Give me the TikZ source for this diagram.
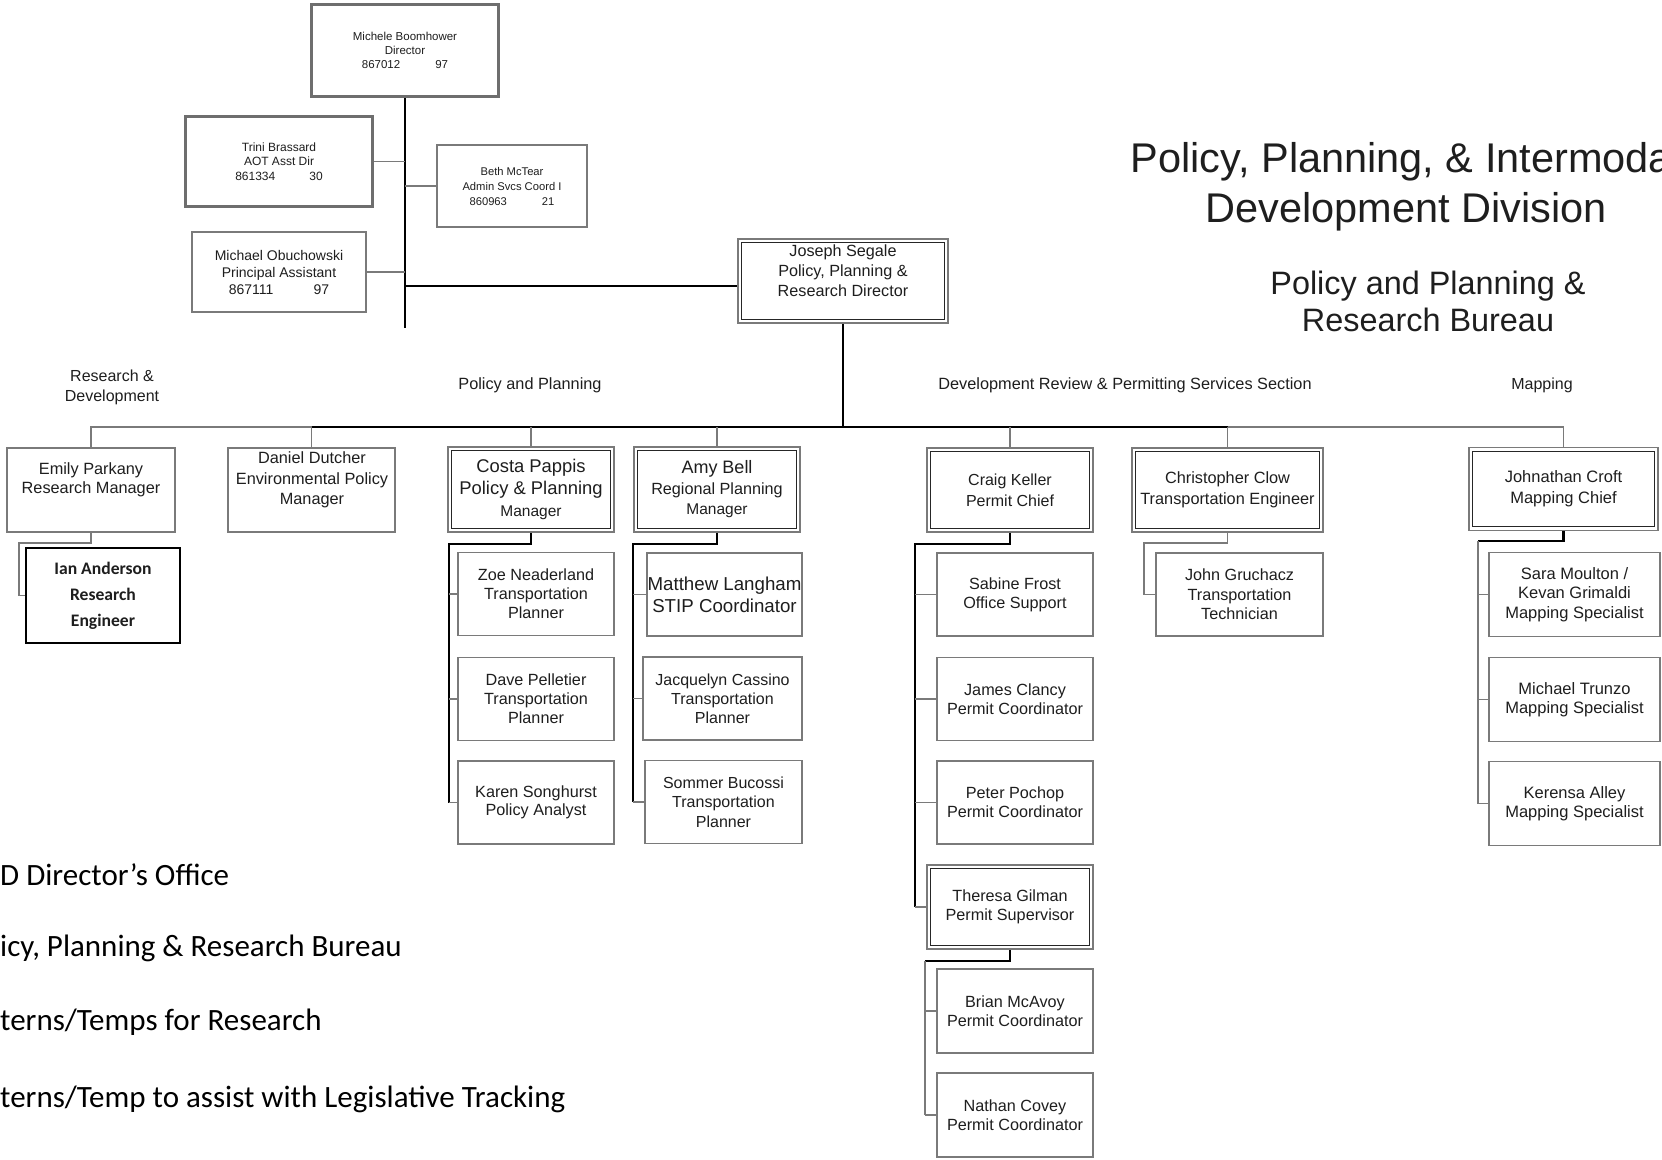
\documentclass[tikz,border=0pt]{standalone}
\usepackage{fontspec}
\setmainfont{Liberation Sans}
\newfontfamily\calfont{Carlito}
\usetikzlibrary{calc}
\definecolor{boxgray}{HTML}{7A7A7A}
\definecolor{thickgray}{HTML}{6E6E6E}
\definecolor{linegray}{HTML}{7A7A7A}
\definecolor{txt}{HTML}{1E1E1E}
\newcommand\fsz[2]{\fontsize{#1}{#2}\selectfont}
\newcommand\innerframe[1]{\draw[innerline] ($(#1.north west)+(4.5,4.5)$) rectangle ($(#1.south east)+(-4.5,-4.5)$);}
\begin{document}
\begin{tikzpicture}[x=1pt,y=-1pt,
  box/.style={draw=boxgray, line width=1.6pt, fill=white, inner sep=0pt, align=center, text=txt},
  heavybox/.style={box, draw=thickgray, line width=3.6pt},
  blackbox/.style={box, draw=black, line width=1.4pt},
  lbl/.style={inner sep=0pt, align=center, text=txt},
  legend/.style={inner sep=0pt, anchor=west, text=black, font=\calfont\fsz{31}{35}},
  grayline/.style={draw=linegray, line width=1.7pt},
  darkline/.style={draw=black, line width=2.3pt},
  innerline/.style={draw=black!85, line width=1.2pt},
  kid/.style={box, minimum width=156pt, minimum height=83pt, font=\fsz{16.2}{19}},
  mapkid/.style={box, minimum width=171pt, minimum height=84pt, font=\fsz{16.5}{19.5}},
]
\useasboundingbox (0,0) rectangle (1662,1159);
\clip (0,0) rectangle (1662,1159);

% ---------- titles ----------
\node[lbl, font=\fsz{41.5}{49}] (title1) at (1406,162) {Policy, Planning, \& Intermodal};
\node[lbl, font=\fsz{41.5}{49}] (title2) at (1406,212) {Development Division};
\node[lbl, font=\fsz{32.4}{37}] (bureau) at (1428,301) {Policy and Planning \&\\Research Bureau};

% ---------- director's office ----------
\node[heavybox, minimum width=187pt, minimum height=92pt, font=\fsz{11.5}{14}] (director) at (405,50.5)
  {Michele Boomhower\\Director\\867012\hspace{35pt}97};
\node[heavybox, minimum width=187pt, minimum height=90pt, font=\fsz{12}{14.5}] (trini) at (279,161.5)
  {Trini Brassard\\AOT Asst Dir\\861334\hspace{34pt}30};
\node[box, minimum width=150pt, minimum height=82pt, font=\fsz{11.2}{15}] (beth) at (512,186)
  {Beth McTear\\Admin Svcs Coord I\\860963\hspace{35pt}21};
\node[box, minimum width=174pt, minimum height=80pt, font=\fsz{14}{17}] (michael) at (279,272)
  {Michael Obuchowski\\Principal Assistant\\867111\hspace{40pt}97};

\node[box, minimum width=210pt, minimum height=84pt] (joseph) at (843,281) {};
\innerframe{joseph}
\node[lbl, font=\fsz{16.2}{20}] (josephtxt) at (843,271) {Joseph Segale\\Policy, Planning \&\\Research Director};

\coordinate (dirbottom) at (405,328);
\draw[darkline] (director.south) -- (dirbottom);
\draw[grayline] (trini.east) -- (trini.east -| director.south);
\draw[grayline] (beth.west) -- (beth.west -| director.south);
\draw[grayline] (michael.east) -- (michael.east -| director.south);
\draw[darkline] ($(director.south |- joseph.west)+(0,5)$) -- ($(joseph.west)+(0,5)$);

% ---------- section labels ----------
\node[lbl, font=\fsz{16}{20}] (secrd) at (112,387) {Research \&\\Development};
\node[lbl, font=\fsz{16.3}{18}] (secpp) at (530,385) {Policy and Planning};
\node[lbl, font=\fsz{16.3}{18}] (secdr) at (1125,385) {Development Review \& Permitting Services Section};
\node[lbl, font=\fsz{16}{18}] (secmap) at (1542,385) {Mapping};

% ---------- first level ----------
\node[box, minimum width=168pt, minimum height=84pt] (emily) at (91,490) {};
\node[lbl, font=\fsz{16.3}{19.5}] (emilytxt) at (91,480) {Emily Parkany\\Research Manager};
\node[box, minimum width=167pt, minimum height=84pt] (daniel) at (311.5,490) {};
\node[lbl, font=\fsz{16.3}{20.5}] (danieltxt) at (312,480) {Daniel Dutcher\\Environmental Policy\\Manager};

\node[box, minimum width=166pt, minimum height=85pt, font=\fsz{18.4}{22}] (costa) at (531,489.5)
  {Costa Pappis\\Policy \& Planning\\{\fsz{15.5}{21}Manager}};
\innerframe{costa}
\node[box, minimum width=166pt, minimum height=85pt, font=\fsz{18}{20.5}] (amy) at (717,489.5)
  {Amy Bell\\{\fsz{16.2}{20}Regional Planning}\\{\fsz{15.5}{19.5}Manager}};
\innerframe{amy}
\node[box, minimum width=166pt, minimum height=84pt, font=\fsz{16}{21}] (craig) at (1010,490)
  {Craig Keller\\Permit Chief};
\innerframe{craig}
\node[box, minimum width=191pt, minimum height=84pt, font=\fsz{16.3}{21}] (christopher) at (1227.5,490)
  {Christopher Clow\\Transportation Engineer};
\innerframe{christopher}
\node[box, minimum width=189pt, minimum height=83pt, font=\fsz{16.5}{21}] (johnathan) at (1563.5,489)
  {Johnathan Croft\\Mapping Chief};
\innerframe{johnathan}

% ---------- second level ----------
\node[blackbox, minimum width=154pt, minimum height=95pt, font=\calfont\bfseries\fsz{17.6}{26}] (ian) at (103,595.5)
  {Ian Anderson\\Research\\Engineer};

\node[kid] (zoe) at (536,594) {Zoe Neaderland\\Transportation\\Planner};
\node[kid] (dave) at (536,699) {Dave Pelletier\\Transportation\\Planner};
\node[kid, font=\fsz{16.2}{18.5}] (karen) at (536,802.5) {Karen Songhurst\\Policy Analyst};

\node[kid, minimum width=155pt, font=\fsz{18.7}{22}] (matthew) at (724.5,594.5) {Matthew Langham\\STIP Coordinator};
\node[kid, minimum width=159pt, font=\fsz{16}{19}] (jacquelyn) at (722.5,698.5) {Jacquelyn Cassino\\Transportation\\Planner};
\node[kid, minimum width=157pt, font=\fsz{16}{19.5}] (sommer) at (723.5,802) {Sommer Bucossi\\Transportation\\Planner};

\node[kid] (sabine) at (1015,594.5) {Sabine Frost\\Office Support};
\node[kid] (james) at (1015,699) {James Clancy\\Permit Coordinator};
\node[kid] (peter) at (1015,802.5) {Peter Pochop\\Permit Coordinator};
\node[box, minimum width=166pt, minimum height=84pt, font=\fsz{16.2}{19}] (theresa) at (1010,907)
  {Theresa Gilman\\Permit Supervisor};
\innerframe{theresa}
\node[kid, minimum height=84pt] (brian) at (1015,1011) {Brian McAvoy\\Permit Coordinator};
\node[kid, minimum height=84pt] (nathan) at (1015,1115) {Nathan Covey\\Permit Coordinator};

\node[kid, minimum width=167pt, font=\fsz{16.2}{19.5}] (john) at (1239.5,594.5) {John Gruchacz\\Transportation\\Technician};

\node[mapkid] (sara) at (1574.5,594.5) {Sara Moulton /\\Kevan Grimaldi\\Mapping Specialist};
\node[mapkid] (trunzo) at (1574.5,699.5) {Michael Trunzo\\Mapping Specialist};
\node[mapkid] (kerensa) at (1574.5,803.5) {Kerensa Alley\\Mapping Specialist};

% ---------- main distribution line ----------
\coordinate (hub) at (843,427);
\draw[darkline] (joseph.south) -- (hub);
\draw[grayline] (emily.north) |- (daniel.north |- hub);
\draw[darkline] (daniel.north |- hub) -- (christopher.north |- hub);
\draw[grayline] (christopher.north |- hub) -| (johnathan.north);
\draw[grayline] (daniel.north) -- (daniel.north |- hub);
\draw[grayline] (costa.north) -- (costa.north |- hub);
\draw[grayline] (amy.north) -- (amy.north |- hub);
\draw[grayline] (craig.north) -- (craig.north |- hub);
\draw[grayline] (christopher.north) -- (christopher.north |- hub);

% ---------- branches ----------
\draw[grayline] (emily.south) -- ++(0,10) -| ($(ian.west)+(-6,0)$) -- (ian.west);

\coordinate (cbus) at ($(karen.west)+(-8,0)$);
\draw[darkline] (costa.south) -- ++(0,11) -| (cbus);
\draw[grayline] (zoe.west) -- (zoe.west -| cbus);
\draw[grayline] (dave.west) -- (dave.west -| cbus);
\draw[grayline] (karen.west) -- (cbus);

\coordinate (abus) at (sommer.west -| amy.west);
\draw[darkline] (amy.south) -- ++(0,11) -| (abus);
\draw[grayline] (matthew.west) -- (matthew.west -| abus);
\draw[grayline] (jacquelyn.west) -- (jacquelyn.west -| abus);
\draw[grayline] (sommer.west) -- (abus);

\coordinate (kbus) at ($(theresa.west)+(-11,0)$);
\draw[darkline] (craig.south) -- ++(0,11) -| (kbus);
\draw[grayline] (kbus) -- (theresa.west);
\draw[grayline] (sabine.west) -- (sabine.west -| kbus);
\draw[grayline] (james.west) -- (james.west -| kbus);
\draw[grayline] (peter.west) -- (peter.west -| kbus);

\coordinate (tbus) at ($(nathan.west)+(-11,0)$);
\coordinate (tturn) at ($(theresa.south)+(0,11)$);
\draw[darkline] (theresa.south) -- (tturn) -- (tturn -| tbus);
\draw[grayline] (tturn -| tbus) -- (tbus);
\draw[grayline] (brian.west) -- (brian.west -| tbus);
\draw[grayline] (nathan.west) -- (tbus);

\draw[grayline] (christopher.south) -- ++(0,10) -| ($(john.west)+(-11,0)$) -- (john.west);

\coordinate (jbus) at ($(kerensa.west)+(-10,0)$);
\coordinate (jturn) at ($(johnathan.south)+(0,10)$);
\draw[darkline] (johnathan.south) -- (jturn) -- (jturn -| jbus);
\draw[grayline] (jturn -| jbus) -- (jbus);
\draw[grayline] (sara.west) -- (sara.west -| jbus);
\draw[grayline] (trunzo.west) -- (trunzo.west -| jbus);
\draw[grayline] (kerensa.west) -- (jbus);

% ---------- legend ----------
\node[legend] (leg1) at (0,875) {D Director’s Office};
\node[legend] (leg2) at (0,948) {icy, Planning \& Research Bureau};
\node[legend] (leg3) at (0,1022) {terns/Temps for Research};
\node[legend] (leg4) at (0,1099) {terns/Temp to assist with Legislative Tracking};
\end{tikzpicture}
\end{document}
